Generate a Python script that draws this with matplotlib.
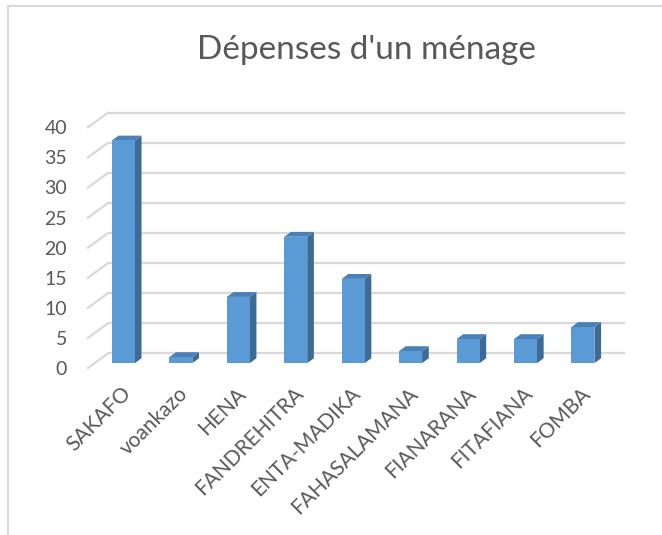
import matplotlib
matplotlib.use("Agg")
import matplotlib.pyplot as plt
from matplotlib.patches import Polygon
from matplotlib.lines import Line2D
from matplotlib.transforms import ScaledTranslation

plt.rcParams['font.family'] = ['Lato', 'DejaVu Sans']

title = "Dépenses d'un ménage"
categories = ["SAKAFO", "voankazo", "HENA", "FANDREHITRA", "ENTA-MADIKA",
              "FAHASALAMANA", "FIANARANA", "FITAFIANA", "FOMBA"]
values = [37, 1, 11, 21, 14, 2, 4, 4, 6]
yticks = [0, 5, 10, 15, 20, 25, 30, 35, 40]

front_col = "#5B9BD5"
side_col = "#3D6B96"
top_col = "#4A80B6"
grid_col = "#D9D9D9"
text_col = "#595959"

# fake 3d: depth offset of the back wall, in data units
DX = 0.348
DY = 2.43
f0 = 1 / 3      # bars start a third of the way into the depth
bw = 0.4

W, H = 662, 535
fig = plt.figure(figsize=(W / 100, H / 100), dpi=100)
ax = fig.add_axes([88 / W, 1 - 368 / H, (625 - 88) / W, (368 - 112.7) / H])
n = len(categories)
ax.set_xlim(-0.5, n - 0.5 + DX)
ax.set_ylim(0, yticks[-1] + DY)
for s in ax.spines.values():
    s.set_visible(False)

# back wall + left wall grid lines
for v in yticks:
    ax.plot([-0.5 + DX, n - 0.5 + DX], [v + DY, v + DY], color=grid_col,
            lw=1.6, zorder=1, clip_on=False, solid_capstyle='butt')
    ax.plot([-0.5, -0.5 + DX], [v, v + DY], color=grid_col,
            lw=1.6, zorder=1, clip_on=False)

xs = list(range(n))
ox, oy = DX * f0, DY * f0
dx, dy = DX * (1 / 3), DY * (1 / 3)
ax.bar([x + ox for x in xs], values, width=bw, bottom=oy, color=front_col,
       zorder=3, clip_on=False)
for x, v in zip(xs, values):
    x0 = x - bw / 2 + ox
    x1 = x + bw / 2 + ox
    y0, y1 = oy, v + oy
    ax.add_patch(Polygon([(x1, y0), (x1 + dx, y0 + dy), (x1 + dx, y1 + dy), (x1, y1)],
                         closed=True, facecolor=side_col, edgecolor='none',
                         zorder=2.9, clip_on=False))
    ax.add_patch(Polygon([(x0, y1), (x1, y1), (x1 + dx, y1 + dy), (x0 + dx, y1 + dy)],
                         closed=True, facecolor=top_col, edgecolor='none',
                         zorder=2.9, clip_on=False))

ax.set_yticks(yticks)
ax.set_yticklabels([str(t) for t in yticks], fontsize=14, color=text_col)
ax.tick_params(axis='y', length=0, pad=15)
ax.set_xticks(xs)
ax.set_xticklabels(categories, fontsize=15, color=text_col, rotation=45,
                   ha='right', va='top', rotation_mode='anchor')
ax.tick_params(axis='x', length=0, pad=11)
off = ScaledTranslation(0.04, 0, fig.dpi_scale_trans)
for lab in ax.get_xticklabels():
    lab.set_transform(lab.get_transform() + off)

fig.text(366 / W, 1 - 50 / H, title, fontsize=24, color=text_col,
         ha='center', va='center')

# chart area border (only top and left are in the crop)
fig.add_artist(Line2D([8 / W, 1], [1 - 6 / H, 1 - 6 / H], color=grid_col, lw=1.5))
fig.add_artist(Line2D([8 / W, 8 / W], [0, 1 - 6 / H], color=grid_col, lw=1.5))

fig.savefig("out.png", dpi=100)
